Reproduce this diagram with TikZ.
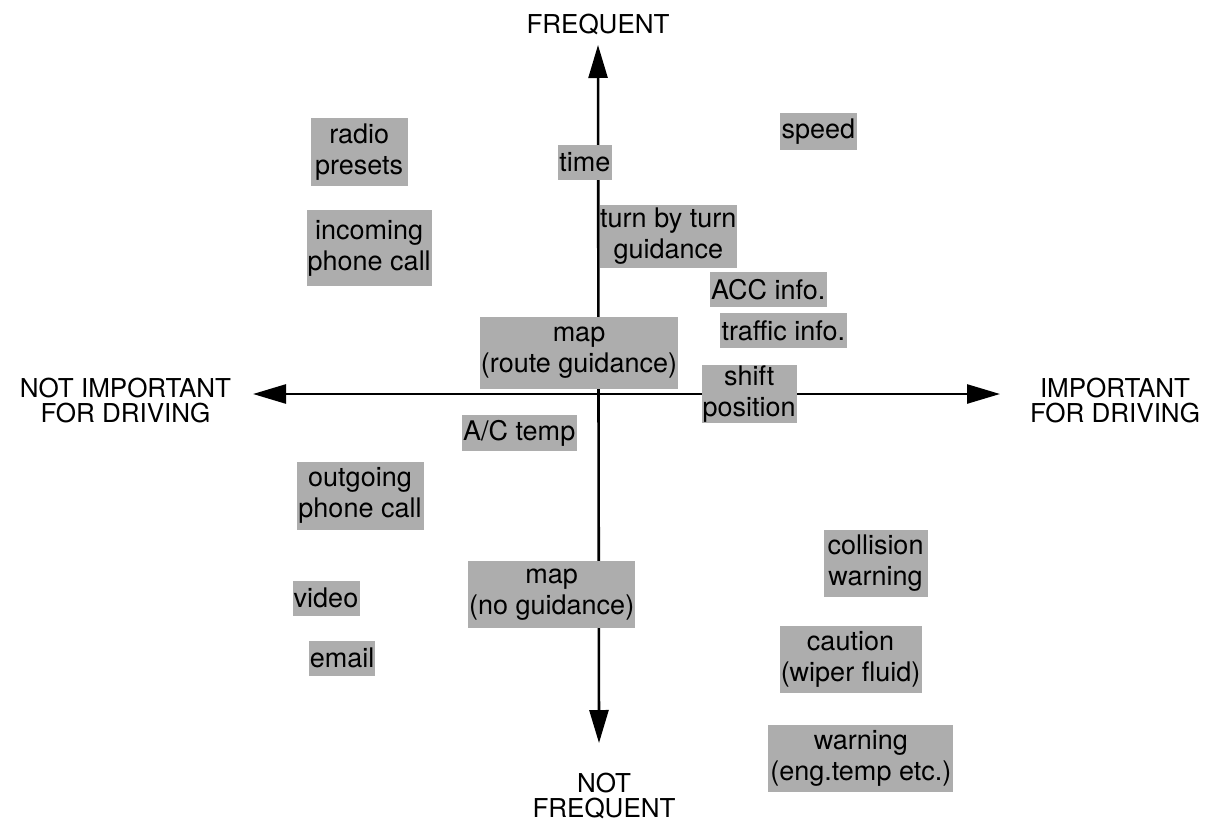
\documentclass[tikz,border=0pt]{standalone}
\usepackage{fontspec}
\setmainfont{TeX Gyre Heros}
\usetikzlibrary{arrows.meta}
\definecolor{boxgray}{gray}{0.68}
\begin{document}
\begin{tikzpicture}[x=1pt,y=-1pt,
  lbl/.style={fill=boxgray, inner sep=0pt, align=center, font=\fontsize{27}{31}\selectfont},
  axlbl/.style={align=center, inner sep=0pt, font=\fontsize{26}{24.5}\selectfont},
  tip/.tip={Triangle[length=33pt,width=19pt]},
  axisline/.style={line width=2.6pt, tip-tip}]
\useasboundingbox[fill=white] (0,0) rectangle (1217,832);
% axes
\coordinate (top) at (598,45);
\coordinate (bot) at (599,743);
\coordinate (lft) at (253,394);
\coordinate (rgt) at (1000,394);
\draw[axisline] (bot) -- (top);
\draw[axisline] (lft) -- (rgt);
% axis labels
\node[axlbl, anchor=base] (freq) at (598,34) {FREQUENT};
\node[axlbl, anchor=base] (notfreq) at (604,817) {NOT\\FREQUENT};
\node[axlbl, anchor=base] (notimp) at (125.5,422) {NOT IMPORTANT\\FOR DRIVING};
\node[axlbl, anchor=base] (imp) at (1115,422) {IMPORTANT\\FOR DRIVING};
% items
\node[lbl, minimum width=97pt, minimum height=67pt] (radio) at (359.2,152) {radio\\presets};
\node[lbl, minimum width=125pt, minimum height=76pt] (incoming) at (369.2,248.3) {incoming\\phone call};
\node[lbl, minimum width=54pt, minimum height=35pt] (time) at (584.8,162.5) {time};
\node[lbl, minimum width=137pt, minimum height=63pt] (turn) at (668.3,236.5) {turn by turn\\guidance};
\node[lbl, minimum width=77pt, minimum height=37pt] (speed) at (818.3,131.5) {speed};
\node[lbl, minimum width=117pt, minimum height=35pt] (acc) at (768.3,289.2) {ACC info.};
\node[lbl, minimum width=127pt, minimum height=35pt] (traffic) at (783.3,330.5) {traffic info.};
\node[lbl, minimum width=198pt, minimum height=72pt] (maproute) at (579,352.5) {map\\(route guidance)};
\node[lbl, minimum width=95pt, minimum height=58pt] (shift) at (749.2,393.8) {shift\\position};
\node[lbl, minimum width=115pt, minimum height=36pt] (ac) at (519.2,433) {A/C temp};
\node[lbl, minimum width=127pt, minimum height=68pt] (outgoing) at (360,495.5) {outgoing\\phone call};
\node[lbl, minimum width=67pt, minimum height=35pt] (video) at (326,598.3) {video};
\node[lbl, minimum width=66pt, minimum height=35pt] (email) at (342.2,658.2) {email};
\node[lbl, minimum width=167pt, minimum height=67pt] (mapno) at (551.7,594.7) {map\\(no guidance)};
\node[lbl, minimum width=104pt, minimum height=67pt] (collision) at (875.5,563) {collision\\warning};
\node[lbl, minimum width=142pt, minimum height=67pt] (caution) at (850.5,659.7) {caution\\(wiper fluid)};
\node[lbl, minimum width=185pt, minimum height=67pt] (warning) at (860.8,758.3) {warning\\(eng.temp etc.)};
\end{tikzpicture}
\end{document}
